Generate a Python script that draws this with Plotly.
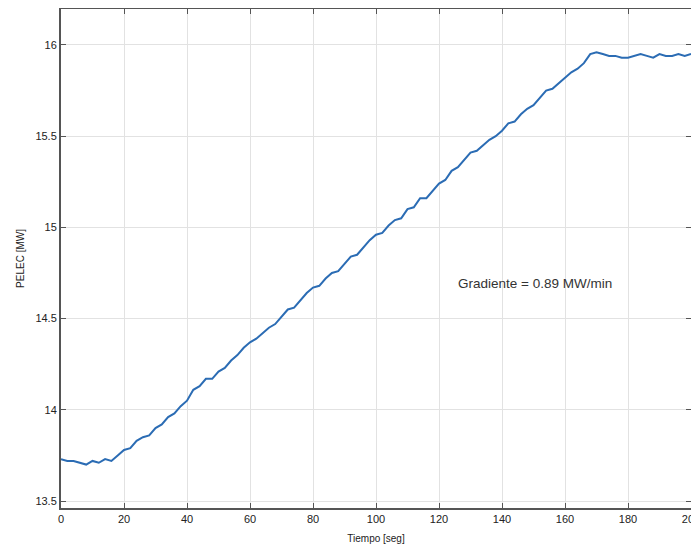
import plotly.graph_objects as go

time_s = list(range(0, 202, 2))
pelec_mw = [
    13.73, 13.72, 13.72, 13.71, 13.70, 13.72, 13.71, 13.73, 13.72, 13.75,
    13.78, 13.79, 13.83, 13.85, 13.86, 13.90, 13.92, 13.96, 13.98, 14.02,
    14.05, 14.11, 14.13, 14.17, 14.17, 14.21, 14.23, 14.27, 14.30, 14.34,
    14.37, 14.39, 14.42, 14.45, 14.47, 14.51, 14.55, 14.56, 14.60, 14.64,
    14.67, 14.68, 14.72, 14.75, 14.76, 14.80, 14.84, 14.85, 14.89, 14.93,
    14.96, 14.97, 15.01, 15.04, 15.05, 15.10, 15.11, 15.16, 15.16, 15.20,
    15.24, 15.26, 15.31, 15.33, 15.37, 15.41, 15.42, 15.45, 15.48, 15.50,
    15.53, 15.57, 15.58, 15.62, 15.65, 15.67, 15.71, 15.75, 15.76, 15.79,
    15.82, 15.85, 15.87, 15.90, 15.95, 15.96, 15.95, 15.94, 15.94, 15.93,
    15.93, 15.94, 15.95, 15.94, 15.93, 15.95, 15.94, 15.94, 15.95, 15.94,
    15.95,
]
y_ticks = [13.5, 14, 14.5, 15, 15.5, 16]
x_ticks = list(range(0, 201, 20))
annotation_text = "Gradiente = 0.89 MW/min"

fig = go.Figure()
fig.add_trace(go.Scatter(
    x=time_s, y=pelec_mw, mode="lines",
    line=dict(color="#2b6cb4", width=2),
    showlegend=False,
))

fig.add_annotation(
    x=150.5, y=14.695, text=annotation_text, showarrow=False,
    font=dict(size=13.5, color="#333333"),
)

axis_common = dict(
    showline=True, linecolor="#555555", linewidth=2, mirror="ticks",
    ticks="inside", ticklen=5, tickcolor="#555555",
    showgrid=True, gridcolor="#e2e2e2", gridwidth=1, zeroline=False,
    tickfont=dict(size=11, color="#222222"),
    automargin=False, ticklabeloverflow="allow",
)

fig.update_xaxes(
    range=[0, 200], tickvals=x_ticks,
    title=dict(text="Tiempo [seg]", font=dict(size=10, color="#222222"), standoff=11),
    **axis_common,
)
fig.update_yaxes(
    range=[13.462, 16.197], tickvals=y_ticks,
    title=dict(text="PELEC [MW]", font=dict(size=10, color="#222222"), standoff=9),
    **axis_common,
)

# The page body has an 8px default margin, so the figure is sized/offset to fit.
fig.update_layout(
    width=691, height=542,
    margin=dict(l=53, r=8, t=1, b=42, autoexpand=False),
    paper_bgcolor="white", plot_bgcolor="white",
    font=dict(family="Liberation Sans, Arial, sans-serif"),
)

fig.write_html("out.html")
